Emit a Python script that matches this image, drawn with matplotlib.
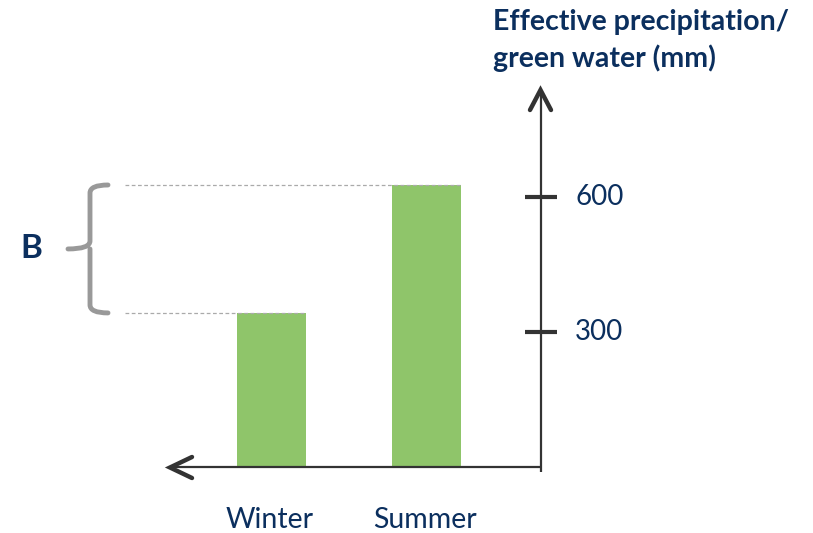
import matplotlib
matplotlib.use("Agg")
import matplotlib.pyplot as plt
from matplotlib.path import Path
from matplotlib.patches import PathPatch

categories = ["Winter", "Summer"]
values = [342, 626]
tick_values = [300, 600]
tick_labels = ["300", "600"]
y_title = "Effective precipitation/\ngreen water (mm)"
bracket_label = "B"

NAVY = "#0b2f5e"
AXC = "#333333"
GREEN = "#8fc56a"
GREY = "#999999"

plt.rcParams['font.family'] = ['Lato', 'DejaVu Sans']

W, H = 813, 533
fig = plt.figure(figsize=(W / 100, H / 100), dpi=100)
ax = fig.add_axes([0, 0, 1, 1])
ax.set_axis_off()

# pixel mapping helpers
X0, XS = 271.5, 155.0     # pixel of category 0, pixels per category
Y0, YS = 467.0, 0.4505    # pixel of value 0, pixels per unit
def px(p):
    return (p - X0) / XS
def py(p):
    return (Y0 - p) / YS

ax.set_xlim(px(0), px(W))
ax.set_ylim(py(H), py(0))

xs = list(range(len(categories)))
ax.bar(xs, values, width=69 / XS, color=GREEN, zorder=2)

# dashed guide lines at the bar tops
for x, v in zip(xs, values):
    ax.plot([px(125), x + 0.22], [v, v], color="#aaaaaa", lw=0.9,
            ls=(0, (3, 2)), zorder=3)

# axes lines
yax = px(540.5)
ax.plot([yax, yax], [py(472), py(91)], color=AXC, lw=1.6, solid_capstyle="butt")
ax.plot([px(172), yax], [0, 0], color=AXC, lw=1.6, solid_capstyle="butt")
# chevron arrowheads
ax.plot([px(530), yax, px(551)], [py(110), py(90), py(110)], color=AXC, lw=3.2,
        solid_capstyle="round", solid_joinstyle="miter")
ax.plot([px(192), px(170), px(192)], [py(457), py(467.5), py(478)], color=AXC,
        lw=3.2, solid_capstyle="round", solid_joinstyle="miter")

for t, lab in zip(tick_values, tick_labels):
    ax.plot([px(525), px(557)], [t, t], color=AXC, lw=3, solid_capstyle="butt")
    ax.text(px(575), t, lab, color=NAVY, fontsize=20, ha="left", va="center")

for x, c in zip(xs, categories):
    ax.text(x - 0.01, py(520), c, color=NAVY, fontsize=20.5, ha="center", va="center")

ax.text(px(493), py(9), y_title, color=NAVY, fontsize=20.5, fontweight="bold",
        ha="left", va="top", linespacing=1.4)

# curly bracket spanning the difference
lo, hi = min(values), max(values)
mid = (lo + hi) / 2
xr, xv, xt = px(108), px(90), px(68)
r = 8 / YS
verts = [
    (xr, hi), (xv, hi), (xv, hi - r),
    (xv, mid + r), (xv, mid), (xt, mid),
    (xv, mid), (xv, mid - r),
    (xv, lo + r), (xv, lo), (xr, lo),
]
codes = [Path.MOVETO, Path.CURVE3, Path.CURVE3,
         Path.LINETO, Path.CURVE3, Path.CURVE3,
         Path.MOVETO, Path.LINETO,
         Path.LINETO, Path.CURVE3, Path.CURVE3]
ax.add_patch(PathPatch(Path(verts, codes), fill=False, edgecolor=GREY,
                       lw=3.5, capstyle="round", joinstyle="round"))

ax.text(px(31), mid, bracket_label, color=NAVY, fontsize=24, fontweight="bold",
        ha="center", va="center")

fig.savefig("out.png", dpi=100)
